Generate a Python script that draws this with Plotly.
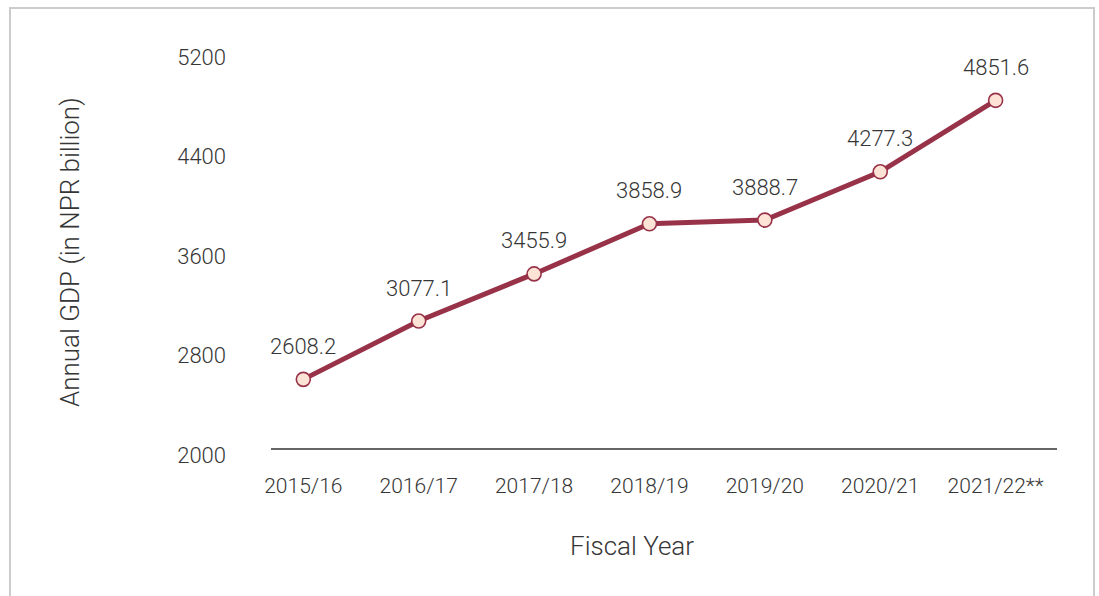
import plotly.graph_objects as go

# Annual GDP of Nepal by fiscal year (NPR billion)
fiscal_years = ["2015/16", "2016/17", "2017/18", "2018/19", "2019/20", "2020/21", "2021/22**"]
gdp_values = [2608.2, 3077.1, 3455.9, 3858.9, 3888.7, 4277.3, 4851.6]
y_ticks = [2000, 2800, 3600, 4400, 5200]

LINE_COLOR = "#983249"
MARKER_FILL = "#fde2d6"
TEXT_COLOR = "#363636"
FONT = "Roboto"

W, H = 1099, 596
L, R, T, B = 271, 42, 57, 141
plot_w = W - L - R
plot_h = H - T - B


def px_x(x):
    return (x - L) / plot_w


def px_y(y):
    return (H - B - y) / plot_h


x_idx = list(range(len(fiscal_years)))

fig = go.Figure()
fig.add_trace(go.Scatter(
    x=x_idx,
    y=gdp_values,
    mode="lines+markers",
    line=dict(color=LINE_COLOR, width=5),
    marker=dict(size=14, color=MARKER_FILL, line=dict(color=LINE_COLOR, width=1.6)),
    hoverinfo="skip",
    showlegend=False,
))

annotations = [
    dict(x=i, y=v, xref="x", yref="y", text=f"{v:.1f}", showarrow=False,
         yshift=33, font=dict(family=FONT, size=22, color=TEXT_COLOR, weight=300))
    for i, v in zip(x_idx, gdp_values)
]
annotations += [
    dict(x=px_x(70), y=px_y(252), xref="paper", yref="paper",
         text="Annual GDP (in NPR billion)", textangle=-90, showarrow=False,
         xanchor="center", yanchor="middle",
         font=dict(family=FONT, size=26, color=TEXT_COLOR, weight=300)),
    dict(x=px_x(632), y=px_y(546), xref="paper", yref="paper",
         text="Fiscal Year", showarrow=False, xanchor="center", yanchor="middle",
         font=dict(family=FONT, size=26, color=TEXT_COLOR, weight=300)),
]

shapes = [
    # baseline under the series
    dict(type="line", xref="paper", yref="paper", x0=0, x1=1,
         y0=px_y(449), y1=px_y(449), line=dict(color="#333333", width=1.5), layer="below"),
    # frame around the chart
    dict(type="rect", xref="paper", yref="paper",
         x0=px_x(10), x1=px_x(1094), y0=px_y(620), y1=px_y(8),
         line=dict(color="#cccccc", width=2), layer="below"),
]

fig.update_layout(
    width=W, height=H,
    margin=dict(l=L, r=R, t=T, b=B, autoexpand=False),
    paper_bgcolor="white", plot_bgcolor="white",
    font=dict(family=FONT, color=TEXT_COLOR, weight=300),
    annotations=annotations,
    shapes=shapes,
    xaxis=dict(
        range=[-0.28, 6.532],
        tickmode="array", tickvals=x_idx, ticktext=fiscal_years,
        showgrid=False, zeroline=False, showline=False,
        ticks="", ticklabelstandoff=16,
        tickfont=dict(family=FONT, size=21, color=TEXT_COLOR, weight=300),
        fixedrange=True,
    ),
    yaxis=dict(
        range=[2000, 5200],
        tickmode="array", tickvals=y_ticks,
        showgrid=False, zeroline=False, showline=False,
        ticks="", ticklabelstandoff=44,
        tickfont=dict(family=FONT, size=22, color=TEXT_COLOR, weight=300),
        fixedrange=True,
    ),
)

fig.write_html("out.html", config={"displayModeBar": False})
